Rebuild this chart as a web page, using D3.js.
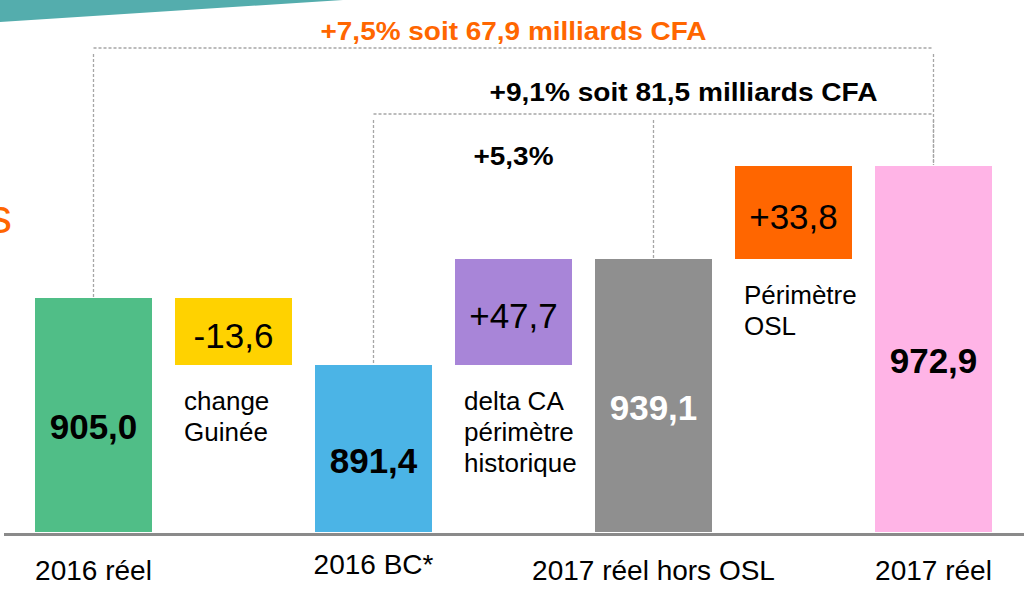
<!DOCTYPE html>
<html>
<head>
<meta charset="utf-8">
<script src="https://cdn.jsdelivr.net/npm/d3@7"></script>
<style>
  body { margin: 0; background: #fff; }
  svg { display: block; font-family: "Liberation Sans", Arial, sans-serif; }
</style>
</head>
<body>
<div id="chart"></div>
<script>
// Waterfall: chiffre d'affaires 2016 -> 2017 (milliards CFA)

var stepKeys = ["r2016", "change", "bc2016", "delta", "hors2017", "osl", "r2017"];
var stepKinds = ["total", "delta", "total", "delta", "total", "delta", "total"];
var stepValues = [905.0, -13.6, 891.4, 47.7, 939.1, 33.8, 972.9];
var categoryLabels = ["2016 réel", "", "2016 BC*", "", "2017 réel hors OSL", "", "2017 réel"];
var stepNotes = [[], ["change", "Guinée"], [], ["delta CA", "périmètre", "historique"], [], ["Périmètre", "OSL"], []];

// brackets above the bars (indexes into the steps)
var bracketFrom = [0, 2];
var bracketTo = [6, 6];
var bracketMid = [null, 4];
var bracketTexts = ["+7,5% soit 67,9 milliards CFA", "+9,1% soit 81,5 milliards CFA"];
var subNote = "+5,3%";

var colors = ["#50be87", "#ffd200", "#4bb4e6", "#a885d8", "#8f8f8f", "#ff6600", "#ffb4e6"];
var labelColors = ["#000", "#000", "#000", "#000", "#fff", "#000", "#000"];

var width = 1024, height = 591;
var baseY = 532;

var fr = d3.formatLocale({decimal: ",", thousands: " ", grouping: [3], currency: ["", ""], minus: "-"});
var fmtTotal = fr.format(".1f");
var fmtDelta = fr.format("+.1f");

// running levels of the waterfall
var steps = stepKeys.map(function(k, i) {
  return {key: k, kind: stepKinds[i], value: stepValues[i], label: categoryLabels[i],
          notes: stepNotes[i], color: colors[i], textColor: labelColors[i]};
});
var level = 0;
steps.forEach(function(d) {
  if (d.kind === "total") { d.start = null; d.end = d.value; }
  else { d.start = level; d.end = level + d.value; }
  level = d.end;
});

var x = d3.scaleBand()
    .domain(stepKeys)
    .range([23.5, 1003.5])
    .paddingInner(23 / 140)
    .paddingOuter(11.5 / 140);

// the slide is not drawn to scale: piecewise scale through the totals
var totals = steps.filter(function(d) { return d.kind === "total"; })
    .map(function(d) { return d.value; })
    .sort(d3.ascending);
var y = d3.scaleLinear()
    .domain([860].concat(totals))
    .range([baseY, 365, 298, 259, 166]);

var svg = d3.select("#chart")
    .append("svg")
    .attr("width", width)
    .attr("height", height);

// teal ribbon top left
svg.append("path")
    .attr("d", "M0,0 L343,0 L0,22 Z")
    .attr("fill", "#54adad");

// cut-off title letter at the left edge
svg.append("text")
    .attr("x", 12)
    .attr("y", 233)
    .attr("text-anchor", "end")
    .style("font-size", "48px")
    .attr("fill", "#ff6600")
    .text("s");

// bars
svg.selectAll("rect.bar")
    .data(steps)
    .enter()
    .append("rect")
    .attr("class", "bar")
    .attr("x", function(d) { return x(d.key); })
    .attr("width", x.bandwidth())
    .attr("y", function(d) {
      return d.kind === "total" ? y(d.value) : Math.min(y(d.start), y(d.end));
    })
    .attr("height", function(d) {
      return d.kind === "total" ? baseY - y(d.value) : Math.abs(y(d.start) - y(d.end));
    })
    .attr("fill", function(d) { return d.color; });

// axis line
svg.append("line")
    .attr("x1", 4).attr("x2", width)
    .attr("y1", 534.5).attr("y2", 534.5)
    .attr("stroke", "#8a8a8a")
    .attr("stroke-width", 3);

// value labels
svg.selectAll("text.val")
    .data(steps)
    .enter()
    .append("text")
    .attr("class", "val")
    .attr("x", function(d) { return x(d.key) + x.bandwidth() / 2; })
    .attr("y", function(d) {
      if (d.kind === "total") return (y(d.value) + baseY) / 2 + 24;
      return (y(d.start) + y(d.end)) / 2 + 16;
    })
    .attr("text-anchor", "middle")
    .style("font-size", "35px")
    .style("font-weight", function(d) { return d.kind === "total" ? "bold" : "normal"; })
    .attr("fill", function(d) { return d.textColor; })
    .text(function(d) { return d.kind === "total" ? fmtTotal(d.value) : fmtDelta(d.value); });

// notes under the delta boxes
var notes = svg.selectAll("text.note")
    .data(steps.filter(function(d) { return d.notes.length; }))
    .enter()
    .append("text")
    .attr("class", "note")
    .style("font-size", "26px")
    .attr("fill", "#000")
    .attr("transform", function(d) {
      var bottom = Math.max(y(d.start), y(d.end));
      return "translate(" + (x(d.key) + 9) + "," + (bottom + 45) + ")";
    });

notes.selectAll("tspan")
    .data(function(d) { return d.notes; })
    .enter()
    .append("tspan")
    .attr("x", 0)
    .attr("y", function(d, i) { return i * 31; })
    .text(function(d) { return d; });

// category labels
svg.selectAll("text.cat")
    .data(steps.filter(function(d) { return d.label; }))
    .enter()
    .append("text")
    .attr("class", "cat")
    .attr("x", function(d) { return x(d.key) + x.bandwidth() / 2; })
    .attr("y", function(d) { return d.key === "bc2016" ? 574 : 580; })
    .attr("text-anchor", "middle")
    .style("font-size", "28px")
    .attr("fill", "#000")
    .text(function(d) { return d.label; });

// brackets
var bracketY = [48, 114];
var bracketTextY = [40, 101];
var bracketTextDx = [0, 30];
var bracketColors = ["#ff6600", "#000"];
var bracketTextLen = [386, 388];

function cx(i) { return x(stepKeys[i]) + x.bandwidth() / 2; }
function topOf(i) { return y(steps[i].end); }

bracketFrom.forEach(function(f, b) {
  var t = bracketTo[b];
  var g = svg.append("g")
      .attr("fill", "none")
      .attr("stroke", "#a6a6a6")
      .attr("stroke-width", 1.3)
      .attr("stroke-dasharray", "3,2");

  g.append("line")
      .attr("x1", cx(f)).attr("x2", cx(t))
      .attr("y1", bracketY[b]).attr("y2", bracketY[b]);

  var ends = [f, t];
  if (bracketMid[b] != null) ends.push(bracketMid[b]);
  ends.forEach(function(i) {
    g.append("line")
        .attr("x1", cx(i)).attr("x2", cx(i))
        .attr("y1", bracketY[b] + 6)
        .attr("y2", topOf(i) - 1);
  });

  svg.append("text")
      .attr("x", (cx(f) + cx(t)) / 2 + bracketTextDx[b])
      .attr("y", bracketTextY[b])
      .attr("text-anchor", "middle")
      .attr("textLength", bracketTextLen[b])
      .attr("lengthAdjust", "spacingAndGlyphs")
      .style("font-size", "26px")
      .style("font-weight", "bold")
      .attr("fill", bracketColors[b])
      .text(bracketTexts[b]);
});

svg.append("text")
    .attr("x", (cx(2) + cx(4)) / 2)
    .attr("y", 165)
    .attr("text-anchor", "middle")
    .attr("textLength", 80)
    .attr("lengthAdjust", "spacingAndGlyphs")
    .style("font-size", "25px")
    .style("font-weight", "bold")
    .attr("fill", "#000")
    .text(subNote);
</script>
</body>
</html>
